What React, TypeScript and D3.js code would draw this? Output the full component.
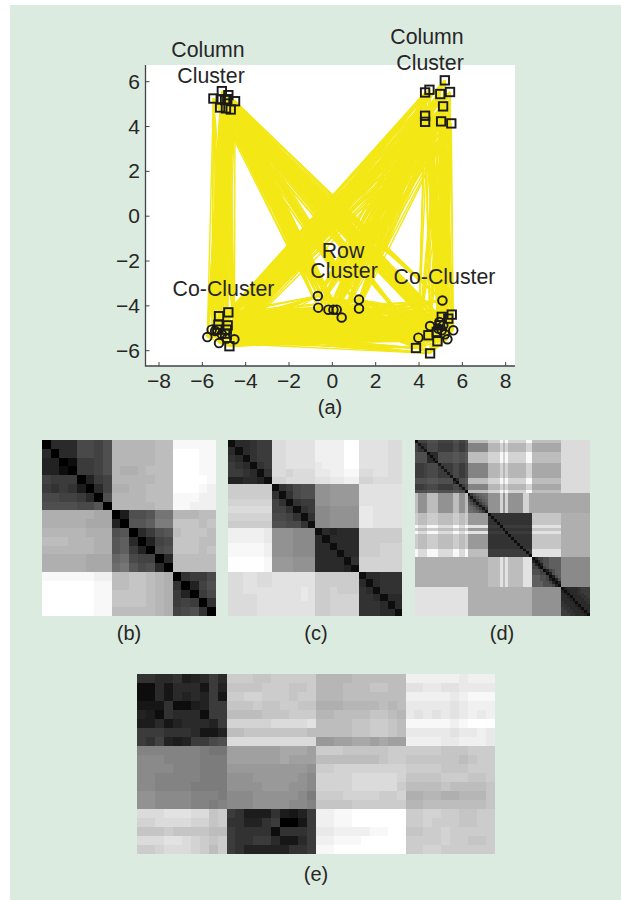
import React from "react";
import * as d3 from "d3";

// ---------- scatter data (a) ----------
const topLeftSquares: [number, number][] = [
  [-5.49, 5.25], [-5.1, 5.58], [-4.8, 5.4], [-4.85, 5.22], [-4.49, 5.13],
  [-5.18, 4.85], [-4.69, 4.76], [-4.95, 5.18], [-5.15, 5.21], [-4.91, 4.81],
];
const topRightSquares: [number, number][] = [
  [5.19, 6.06], [4.48, 5.64], [4.28, 5.52], [5.43, 5.54], [4.98, 5.45],
  [5.11, 4.9], [4.28, 4.48], [4.28, 4.21], [5.02, 4.23], [5.49, 4.14],
];
const bottomLeftSquares: [number, number][] = [
  [-5.23, -4.46], [-4.8, -4.29], [-5.26, -4.84], [-4.83, -4.87], [-4.87, -5.06],
  [-5.31, -5.06], [-4.75, -5.8], [-4.95, -5.24],
];
const bottomRightSquares: [number, number][] = [
  [5.51, -4.39], [5.35, -4.57], [5.05, -4.49], [4.43, -5.31], [4.85, -5.58],
  [3.86, -5.88], [4.51, -6.12], [4.82, -5.16], [4.97, -4.87],
];
const leftCircles: [number, number][] = [
  [-5.77, -5.39], [-5.41, -5.12], [-5.23, -5.66], [-4.52, -5.49], [-5.1, -5.27],
  [-5.57, -5.06], [-4.87, -5.46],
];
const rowCircles: [number, number][] = [
  [-0.67, -3.56], [-0.65, -4.08], [-0.18, -4.17], [0.05, -4.17], [0.2, -4.17],
  [0.43, -4.52], [1.23, -3.72], [1.23, -4.12],
];
const rightCircles: [number, number][] = [
  [5.08, -3.76], [4.51, -4.9], [3.97, -5.42], [5.58, -5.09], [5.31, -5.49],
  [4.94, -4.72], [5.05, -5.09], [5.2, -5.27], [4.89, -5.01], [5.12, -4.87],
];
const xTicks = [-8, -6, -4, -2, 0, 2, 4, 6, 8];
const yTicks = [-6, -4, -2, 0, 2, 4, 6];

// ---------- heat maps: one char per cell, base 36, 0 = black, z = white ----------
const matrixB = [
  "0666aa9bpppppqqyyyyy",
  "6066aa9bpppppqqzzzyy",
  "5502889bpppppqqzzzyy",
  "5520889bpoopqqqzzzyy",
  "98880589pppppqqzzzzy",
  "87874069ooppqqqzzzyx",
  "aa99860bppppqqqyyyxx",
  "bbbbaac0pppppqqyyxxx",
  "oooooonn04bbcggpppqq",
  "ooooonnn50ccdhhrrrqr",
  "pppppooobc068bcqrrrq",
  "qqqpppoocd6059arrrqq",
  "ppppppoocd850abrrrqr",
  "ooooonnnefa9906qqqqq",
  "ooooonnnfgcab60qqqqq",
  "yyyyyyxxqqrrqpo0788a",
  "zzzzzzyyqqrrqpo7059b",
  "zzzzzzyyrrrrqpo8508a",
  "zzzzzzyyrrrrqpo89807",
  "zzzzzzyyqqqqqpo9ab70",
];
const matrixC = [
  "266788uuvvvvxxxxzzvvvvuu",
  "626788uuvvvvxxxxzzvvvvuu",
  "762788uuvvvvxxxxzzvvvvuu",
  "876278uuvvvvwxxxzzvvvvuu",
  "887627uutuuuwwxxyyuuvvuu",
  "556652ttuuuuvvwwxxttuuuu",
  "ssssss278abbkkllllvvvvvv",
  "ssssss727abbkkllllvvvvvv",
  "tttttt972788kkllllvvvvvv",
  "uuuuuu997278jjkkkkwwvvvv",
  "ttttttaa9727jjkkkkwwvvvv",
  "ssssssbbaa72jjkkkkwwvvvv",
  "xxxxxwkkkjjj265666ssssss",
  "xxxxxwkkkjjj626666ssssss",
  "yyyyyxkkkjjj662666sssttt",
  "yyyyyxkkkjjj666266sssttt",
  "zzzzzylllkkk666627tttttt",
  "zzzzzylllkkk666652tttttt",
  "uuvvuuvvvvvvssssss266777",
  "uuvvuuvvvvvvssssss626777",
  "uuvvvvvvvvwvsstsss762777",
  "uuuuvvvvvvwvsstttt776266",
  "uuuuvvvvvvvvsstttt777626",
  "uuuuvvvvvvvvsstttt777662",
];
const tailPlain = "iiiiiiipppptptppppppttnnnnnnnnnnuuuuuuuuuu";
const tailStripe = "qqqqqqqttttytyttttttyyqqqqqqqqqquuuuuuuuuu";
const midHead = "qkkkqqqqkkkkkqqkkq";
const midTail = "kkkktktkkkkkttnnnnnnnnnnnnnnnnnnnnnn";
const coreHead = "sqqqssssqqqqqssqqs";
const coreTail = "rrrrrrrrrroooooooooo";
const stripeHead = "yuuuyyyyuuuuuyyuuy";
const stripeTail = "vvvvvvvvvvoooooooooo";
const lowHead = "ooooooooooooooooooooooooo";
const lowMid = "qqqqvqvqqqqqvvv";
const endHead = "vvvvvvvvvvvvvvvvvvooooooooooooooooooooookkkkkkkkkk";
const matrixD = [
  "1999bbbb99999bb99b" + tailStripe,
  "9377aaaa88888aa88a" + tailPlain,
  "9737aaaa88888aa88a" + tailPlain,
  "9773aaaa88888aa88a" + tailPlain,
  "bbbb2666bbbbbccbbc" + tailStripe,
  "bbbb6266bbbbbccbbc" + tailStripe,
  "bbbb6626bbbbbccbbc" + tailStripe,
  "bbbb6662bbbbbccbbc" + tailStripe,
  "8889aaaa38888aa88a" + tailPlain,
  "8889aaaa83888aa88a" + tailPlain,
  "8889aaaa88388aa88a" + tailPlain,
  "8889aaaa88838aa88a" + tailPlain,
  "8889aaaa88883aa88a" + tailPlain,
  "bbbbccccbbbbb26bbc" + tailStripe,
  "bbbbccccbbbbb62bbc" + tailStripe,
  "8889aaaa88888aa38a" + tailPlain,
  "8889aaaa88888aa83a" + tailPlain,
  "bbbbccccbbbbbccbb2" + tailStripe,
  midHead + "38bdeff" + midTail,
  midHead + "838bdef" + midTail,
  midHead + "b838bde" + midTail,
  midHead + "db838bd" + midTail,
  midHead + "edb838b" + midTail,
  midHead + "fedb838" + midTail,
  midHead + "ffedb83" + midTail,
  coreHead + "lllllll" + "277777777777777" + coreTail,
  coreHead + "lllllll" + "727777777777777" + coreTail,
  coreHead + "lllllll" + "772777777777777" + coreTail,
  coreHead + "lllllll" + "777277777777777" + coreTail,
  stripeHead + "vvvvvvv" + "888828888888888" + stripeTail,
  coreHead + "lllllll" + "777772777777777" + coreTail,
  stripeHead + "vvvvvvv" + "888888288888888" + stripeTail,
  coreHead + "lllllll" + "777777727777777" + coreTail,
  coreHead + "lllllll" + "777777772777777" + coreTail,
  coreHead + "lllllll" + "777777777277777" + coreTail,
  coreHead + "lllllll" + "777777777727777" + coreTail,
  coreHead + "lllllll" + "777777777772777" + coreTail,
  stripeHead + "qqqqqqq" + "888888888888288" + stripeTail,
  stripeHead + "qqqqqqq" + "888888888888828" + stripeTail,
  stripeHead + "qqqqqqq" + "888888888888882" + stripeTail,
  lowHead + lowMid + "2599bbdddd" + "jjjjjjjjjj",
  lowHead + lowMid + "5259bbdddd" + "jjjjjjjjjj",
  lowHead + lowMid + "9525bbdddd" + "jjjjjjjjjj",
  lowHead + lowMid + "99529bdddd" + "jjjjjjjjjj",
  lowHead + lowMid + "bbb9259bdd" + "jjjjjjjjjj",
  lowHead + lowMid + "bbb9925bdd" + "jjjjjjjjjj",
  lowHead + lowMid + "dddbb925bd" + "jjjjjjjjjj",
  lowHead + lowMid + "dddbb9525b" + "jjjjjjjjjj",
  lowHead + lowMid + "ddddbb9525" + "jjjjjjjjjj",
  lowHead + lowMid + "ddddbbb952" + "jjjjjjjjjj",
  endHead + "1566667888",
  endHead + "5156667888",
  endHead + "6516667788",
  endHead + "6651666778",
  endHead + "6665166677",
  endHead + "7666516667",
  endHead + "7766651666",
  endHead + "8776665166",
  endHead + "8877666516",
  endHead + "8887766651",
];
const matrixE = [
  "7766745686" + "sssrrsssss" + "ppppqqqqqq" + "xxxxxxwxxx",
  "1263666385" + "rrrrsssrrs" + "pppqqqrrqq" + "vvwwvvwwww",
  "1263656583" + "ssttsssrss" + "pppqqqqqqq" + "xxxxxwxyyy",
  "3337224588" + "rrrsrrssrr" + "oooppppqpq" + "wwwwwvwxxx",
  "5417666288" + "qqqqrrrsss" + "ppqqqqrrqp" + "wvwvwvwxwx",
  "4463566658" + "tttttuuuuv" + "qqqqrrssrq" + "yyyyyxyzzz",
  "8887776335" + "qqrrrrrrrq" + "qqqqrrssrq" + "wwwwwvwwxw",
  "87954588ab" + "uuuuuuuuuu" + "llmmnnmnmm" + "xxxxwwxxxw",
  "iiiiiiihgg" + "mmmmmmnnnm" + "sssrrrrrss" + "ssssrrrsss",
  "jjjiiiihhh" + "mmmmmmnmmm" + "qqqqqqqrss" + "rrrrrrqrss",
  "jjjjiiihhh" + "lllllllllk" + "sstttttttt" + "ssssrrrsss",
  "jjiiiiihhh" + "kkklllllkj" + "ttttuuuuut" + "rrrrsssrrs",
  "jjiiiihhhh" + "kkkklllkkj" + "ttttuuuuus" + "qqqqrqqqqr",
  "kkjjjjiiih" + "jjjkkkkkjh" + "sssttttsst" + "ooppoopppr",
  "kkjjjjiihi" + "jjjkkkkjji" + "rrrrssssss" + "ppqqqqqqqr",
  "uuuvvvuurs" + "8744474358" + "xxyyzzzzzz" + "ssttssrrss",
  "ttuuuuttrs" + "7755780038" + "xxyyzzzzzz" + "sstsssrrss",
  "rrrsrrrrqq" + "8777717778" + "wwxxxxyyzz" + "rrsstsssss",
  "uuuvvutsrs" + "8778863368" + "xxyyyzzzzz" + "sssstssrrs",
  "sstuuutsqs" + "8755555778" + "yyzzzzzzzz" + "ssttssssss",
];

// ---------- layout ----------
const W = 621;
const H = 900;
const FONT = "'Liberation Sans', Arial, sans-serif";
const INK = "#262626";
const BG = "#dcebe0";
const YELLOW = "#f3e716";

const x = d3.scaleLinear().domain([-8, 8]).range([159, 505.7]);
const y = d3.scaleLinear().domain([-6, 6]).range([350.7, 81.7]);
const plot = { l: 145.5, r: 515, t: 65, b: 366 };

const circles = [...leftCircles, ...rowCircles, ...rightCircles];
const squares = [...topLeftSquares, ...topRightSquares, ...bottomLeftSquares, ...bottomRightSquares];
const link = d3.line<[number, number]>().x((d) => x(d[0])).y((d) => y(d[1]));
const gray = d3.scaleLinear<string>().domain([0, 35]).range(["#000000", "#ffffff"]);

function Heat({ id, rows, box }: { id: string; rows: string[]; box: number[] }) {
  const [l, t, r, b] = box;
  const nCols = rows[0].length;
  const bx = d3.scaleBand<number>().domain(d3.range(nCols)).range([l, r]);
  const by = d3.scaleBand<number>().domain(d3.range(rows.length)).range([t, b]);
  return (
    <g clipPath={`url(#clip-${id})`}>
      <clipPath id={`clip-${id}`}>
        <rect x={l} y={t} width={r - l} height={b - t} />
      </clipPath>
      <g filter="url(#soft)">
        {rows.map((row, i) =>
          row.split("").map((ch, j) => (
            <rect
              key={`${i}-${j}`}
              x={bx(j)}
              y={by(i)}
              width={bx.bandwidth() + 0.6}
              height={by.bandwidth() + 0.6}
              shapeRendering="crispEdges"
              fill={gray(parseInt(ch, 36))}
            />
          ))
        )}
      </g>
    </g>
  );
}

const Label = ({ cx, by, s, children }: any) => (
  <text x={cx} y={by} textAnchor="middle" fontSize={s} fill={INK} fontFamily={FONT}>
    {children}
  </text>
);

export default function App() {
  return (
    <svg width={W} height={H} viewBox={`0 0 ${W} ${H}`} style={{ position: "absolute", left: 0, top: 0, background: "#fff" }}>
      <defs>
        <filter id="soft" x="-2%" y="-2%" width="104%" height="104%">
          <feGaussianBlur stdDeviation="0.75" />
        </filter>
      </defs>
      <rect x={10} y={5} width={W - 10} height={H - 5} fill={BG} />
      <rect x={plot.l} y={plot.t} width={plot.r - plot.l} height={plot.b - plot.t} fill="#fff" />

      <g stroke={YELLOW} strokeWidth={1.4} fill="none">
        {circles.map((c, i) =>
          squares.map((s, j) => <path key={`${i}-${j}`} d={link([c, s]) as string} />)
        )}
      </g>

      <g fill="none" stroke="#1a1a1a" strokeWidth={1.9}>
        {squares.map((s, i) => (
          <rect key={i} x={x(s[0]) - 4.2} y={y(s[1]) - 4.2} width={8.4} height={8.4} />
        ))}
        {circles.map((c, i) => (
          <circle key={i} cx={x(c[0])} cy={y(c[1])} r={4.3} />
        ))}
      </g>

      <path d={`M${plot.l},${plot.t}V${plot.b}H${plot.r}`} fill="none" stroke="#444" strokeWidth={1.3} />
      {xTicks.map((t) => (
        <g key={t}>
          <line x1={x(t)} x2={x(t)} y1={plot.b} y2={plot.b - 4} stroke="#444" />
          <text x={x(t)} y={388} textAnchor="middle" fontSize={21} fill={INK} fontFamily={FONT}>
            {t < 0 ? `\u2212${-t}` : t}
          </text>
        </g>
      ))}
      {yTicks.map((t) => (
        <g key={t}>
          <line x1={plot.l} x2={plot.l + 4} y1={y(t)} y2={y(t)} stroke="#444" />
          <text x={140} y={y(t) + 7} textAnchor="end" fontSize={21} fill={INK} fontFamily={FONT}>
            {t < 0 ? `\u2212${-t}` : t}
          </text>
        </g>
      ))}

      <Label cx={208} by={57} s={21.3}>Column</Label>
      <Label cx={211} by={83} s={21.3}>Cluster</Label>
      <Label cx={427} by={44} s={21.3}>Column</Label>
      <Label cx={430} by={70} s={21.3}>Cluster</Label>
      <Label cx={223.5} by={296} s={21.3}>Co-Cluster</Label>
      <Label cx={444.5} by={284} s={21.3}>Co-Cluster</Label>
      <Label cx={343} by={258} s={21.3}>Row</Label>
      <Label cx={344} by={278} s={21.3}>Cluster</Label>

      <Label cx={330} by={414} s={20}>(a)</Label>
      <Heat id="b" rows={matrixB} box={[42, 440, 216, 616]} />
      <Heat id="c" rows={matrixC} box={[228, 440, 402, 616]} />
      <Heat id="d" rows={matrixD} box={[415, 440, 590, 616]} />
      <Label cx={129} by={640} s={20}>(b)</Label>
      <Label cx={316} by={640} s={20}>(c)</Label>
      <Label cx={502} by={640} s={20}>(d)</Label>
      <Heat id="e" rows={matrixE} box={[137, 674, 495, 854]} />
      <Label cx={316} by={881} s={20}>(e)</Label>
    </svg>
  );
}
